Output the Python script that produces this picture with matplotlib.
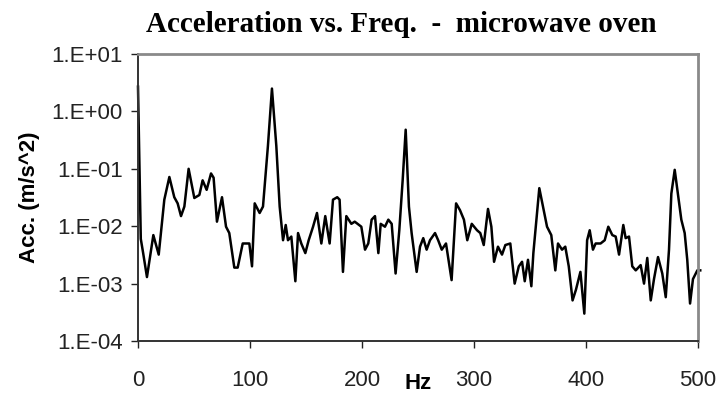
import numpy as np
import matplotlib
matplotlib.use("Agg")
import matplotlib.pyplot as plt
from matplotlib.ticker import FixedLocator, FixedFormatter, NullLocator

# Frequency (Hz) and acceleration (m/s^2)
freq = [0, 2.5, 4.5, 8, 13.7, 18.5, 23.5, 28, 32.4, 35.4, 38.4, 41.4, 45.2,
        50.3, 54.8, 57.7, 61.3, 65.2, 67.5, 70.5, 75, 78.6, 81.5, 86, 89,
        93.5, 99.4, 101.8, 104.2, 108.6, 111.6, 116, 119.6, 123.5, 126.5,
        129.5, 131.9, 133.9, 136.9, 140.5, 142.9, 145.8, 149.4, 152.4, 156.3,
        159.8, 163.7, 167.2, 171.1, 174.1, 177.9, 180, 183, 186, 190.5, 193.5,
        199.4, 202.7, 205.6, 208.6, 211.6, 214.6, 216.7, 220.5, 223.5, 226.5,
        230, 233.3, 236.3, 239, 241.9, 244.3, 248.8, 251.8, 254.7, 257.7,
        260.7, 265.2, 268, 271.2, 275, 280, 284, 287.5, 291, 294, 298, 302.7,
        305.6, 308.7, 312.5, 315.5, 317.9, 321.4, 325, 328, 332.4, 336.3, 340,
        342.9, 345.3, 348.2, 351.2, 353, 355.7, 358.3, 362.2, 365.2, 369,
        372.6, 375, 378.6, 381.5, 384.6, 388, 391, 395, 398.5, 401, 403.3,
        406.2, 408.6, 413, 416.7, 419.9, 423.5, 426.5, 429.5, 433.3, 435.4,
        438.4, 441.3, 444.4, 448.8, 451.8, 454.7, 457.8, 460.7, 464.3, 468.1,
        471.2, 474.1, 476.2, 479.2, 482.4, 485.1, 488.1, 490.4, 492.9, 495.5,
        499.4, 502]
acc = [2.7, 0.006, 0.0035, 0.0013, 0.007, 0.0032, 0.029, 0.072, 0.032, 0.025,
       0.015, 0.022, 0.10, 0.031, 0.035, 0.063, 0.043, 0.083, 0.07, 0.012,
       0.032, 0.0098, 0.0076, 0.0019, 0.0019, 0.005, 0.005, 0.002, 0.025,
       0.017, 0.022, 0.25, 2.5, 0.25, 0.022, 0.0057, 0.0105, 0.0057, 0.0066,
       0.0011, 0.0076, 0.005, 0.0034, 0.0057, 0.0098, 0.017, 0.005, 0.015,
       0.005, 0.029, 0.032, 0.029, 0.0016, 0.015, 0.011, 0.012, 0.0098,
       0.0039, 0.005, 0.013, 0.015, 0.0034, 0.011, 0.0098, 0.013, 0.011,
       0.0015, 0.0085, 0.063, 0.48, 0.022, 0.0076, 0.0016, 0.0044, 0.0062,
       0.0039, 0.0057, 0.0076, 0.0057, 0.0039, 0.005, 0.00115, 0.025, 0.019,
       0.013, 0.0057, 0.011, 0.0085, 0.0076, 0.0047, 0.020, 0.0098, 0.0024,
       0.0044, 0.0032, 0.0047, 0.005, 0.001, 0.002, 0.0024, 0.0011, 0.0026,
       0.0009, 0.0034, 0.013, 0.046, 0.019, 0.0098, 0.0070, 0.0017, 0.005,
       0.0039, 0.0044, 0.002, 0.00051, 0.00078, 0.0016, 0.0003, 0.0057,
       0.0085, 0.0039, 0.005, 0.005, 0.0057, 0.0098, 0.0070, 0.0066, 0.0032,
       0.0105, 0.0062, 0.0066, 0.002, 0.0017, 0.0021, 0.001, 0.0028, 0.00051,
       0.0012, 0.0029, 0.0015, 0.00058, 0.0039, 0.037, 0.096, 0.032, 0.013,
       0.0076, 0.0026, 0.00045, 0.0012, 0.0017, 0.0017]

x_ticks = [0, 100, 200, 300, 400, 500]
y_ticks = [1e-4, 1e-3, 1e-2, 1e-1, 1e0, 1e1]
y_tick_labels = ["1.E-04", "1.E-03", "1.E-02", "1.E-01", "1.E+00", "1.E+01"]

fig = plt.figure(figsize=(7.24, 3.98), dpi=100)
ax = fig.add_axes([0.1906, 0.1432, 0.7735, 0.7211])

ax.plot(freq, acc, color="black", lw=1.8, clip_on=False)
ax.set_yscale("log")
ax.set_xlim(0, 500)
ax.set_ylim(1e-4, 1e1)

ax.xaxis.set_major_locator(FixedLocator(x_ticks))
ax.yaxis.set_major_locator(FixedLocator(y_ticks))
ax.yaxis.set_major_formatter(FixedFormatter(y_tick_labels))
ax.yaxis.set_minor_locator(NullLocator())

ax.tick_params(axis="both", labelsize=16, colors="#222222", width=1, length=5)
ax.tick_params(axis="x", pad=16)
ax.tick_params(axis="y", pad=6)

for side in ["left", "bottom"]:
    ax.spines[side].set_color("#333333")
    ax.spines[side].set_linewidth(1.4)
for side in ["top", "right"]:
    ax.spines[side].set_color("#8a8a8a")
    ax.spines[side].set_linewidth(2)

ax.set_title("Acceleration vs. Freq.  -  microwave oven", fontfamily="Liberation Serif",
             fontweight="bold", fontsize=21, pad=16, x=0.47)
ax.set_xlabel("Hz", fontfamily="Liberation Sans", fontweight="bold", fontsize=16)
ax.xaxis.set_label_coords(0.5, -0.11)
ax.set_ylabel("Acc. (m/s^2)", fontfamily="Liberation Sans", fontweight="bold", fontsize=16)
ax.yaxis.set_label_coords(-0.175, 0.5)

for lbl in ax.get_xticklabels() + ax.get_yticklabels():
    lbl.set_fontfamily("Liberation Sans")

fig.savefig("out.png", dpi=100)
